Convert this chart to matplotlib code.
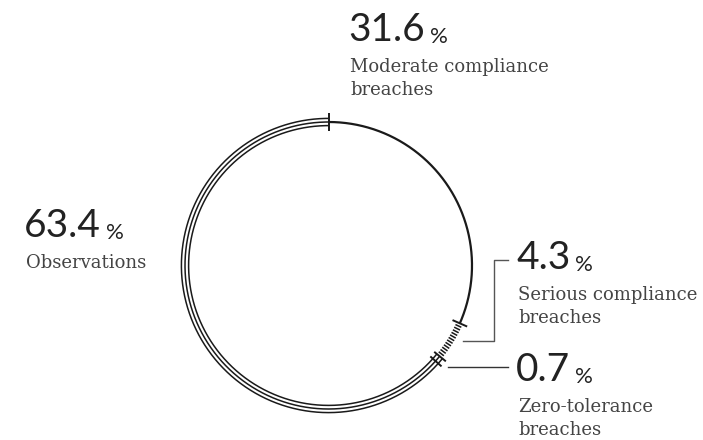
import numpy as np
import matplotlib.pyplot as plt

# Shares, clockwise from 12 o'clock
labels = ["Moderate compliance\nbreaches", "Serious compliance\nbreaches",
          "Zero-tolerance\nbreaches", "Observations"]
values = [31.6, 4.3, 0.7, 63.4]
styles = ["single", "hatch", "triple", "triple"]

# label anchors (pixels, top-left of the number)
label_pos = [(348, 12), (516, 240), (516, 352), (24, 208)]

W, H = 703, 440
cx, cy, r = 328.5, 265.5, 143.5
ink = "#1a1a1a"
txt = "#444444"

fig = plt.figure(figsize=(W / 100, H / 100), dpi=100)
ax = fig.add_axes([0, 0, 1, 1])
ax.set_xlim(0, W)
ax.set_ylim(H, 0)
ax.axis("off")


def pt(frac, rad):
    a = 2 * np.pi * frac
    return cx + rad * np.sin(a), cy - rad * np.cos(a)


def arc(f0, f1, rad, **kw):
    t = np.linspace(f0, f1, 200)
    x, y = pt(t, rad)
    ax.plot(x, y, color=ink, solid_capstyle="butt", **kw)


def tick(frac, inner, outer, lw=1.4):
    x0, y0 = pt(frac, r - inner)
    x1, y1 = pt(frac, r + outer)
    ax.plot([x0, x1], [y0, y1], color=ink, lw=lw, solid_capstyle="butt")


fracs = np.array(values) / 100.0
starts = np.concatenate([[0], np.cumsum(fracs)[:-1]])
ends = starts + fracs

for s, e, st in zip(starts, ends, styles):
    if st == "single":
        arc(s, e, r, lw=1.6)
    elif st == "triple":
        for dr in (-3.6, 0, 3.6):
            arc(s, e, r + dr, lw=1.1)
    elif st == "hatch":
        n = int(round((e - s) * 2 * np.pi * r / 3.0))
        for f in np.linspace(s, e, n + 1)[1:-1]:
            tick(f, 3.5, 3.0, lw=1.1)

# boundary ticks
tick(starts[0], 9, 9)
tick(starts[1], 8, 8)
tick(starts[2], 7, 8)
tick(ends[2], 7, 8)

# leader lines for the two small segments
sx, sy = pt((starts[1] + ends[1]) / 2, r + 14)
ax.plot([sx, 494, 494, 508], [sy - 7, sy - 7, 260, 260], color="#555555", lw=1.0)
zx, zy = pt((starts[2] + ends[2]) / 2, r + 13)
ax.plot([zx, 508], [zy, zy], color="#333333", lw=1.0)

num_font = dict(family="Lato", weight="normal", color="#222222")
for (x, y), v, lab in zip(label_pos, values, labels):
    t = ax.text(x, y, f"{v:.1f}", fontsize=28, va="top", ha="left", **num_font)
    fig.canvas.draw()
    bb = t.get_window_extent().transformed(ax.transData.inverted())
    ax.text(bb.x1 + 5, y + 31, "%", fontsize=16, va="baseline", ha="left", **num_font)
    ax.text(x + 2, y + 46, lab, fontsize=13, va="top", ha="left",
            family="DejaVu Serif", color=txt, linespacing=1.35)

fig.savefig("out.png", dpi=100, facecolor="white")
